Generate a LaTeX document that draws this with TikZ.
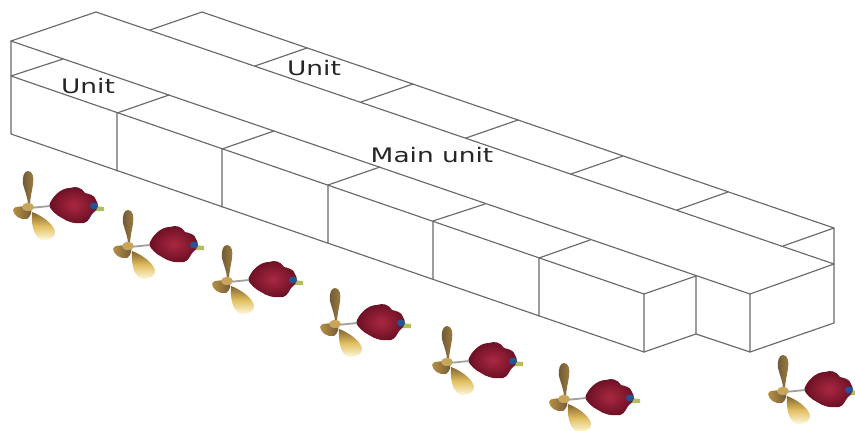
\documentclass[tikz,border=0pt]{standalone}
\usepackage{fontspec}
\setmainfont{DejaVu Sans}
\newfontfamily\lblfont[FakeStretch=1.32]{DejaVu Sans}
\usetikzlibrary{calc}
\definecolor{edgegray}{RGB}{105,105,105}
\definecolor{podred}{RGB}{170,40,65}
\definecolor{poddark}{RGB}{105,15,35}
\definecolor{brassdark}{RGB}{110,88,55}
\definecolor{brass}{RGB}{190,150,70}
\definecolor{bladegold}{RGB}{225,190,95}
\definecolor{bladetop}{RGB}{130,100,45}
\definecolor{cream}{RGB}{254,248,220}
\definecolor{shaftgray}{RGB}{160,160,160}
\definecolor{hubblue}{RGB}{35,85,150}
\definecolor{stickgreen}{RGB}{180,190,95}
\tikzset{
  edge/.style={draw=edgegray,line width=1.15pt,line join=round,line cap=round},
  lbl/.style={inner sep=0pt,text=black!85,font=\lblfont\fontsize{20}{20}\selectfont},
}
\newcommand{\thruster}[1]{%
  \begin{scope}[shift={(#1)}]
    \fill[stickgreen] (66,-2) -- (76,-1) -- (76,3) -- (66,3) -- cycle;
    \path[inner color=podred,outer color=poddark]
      (21,-2) .. controls (24,-12) and (33,-20) .. (42,-20)
      .. controls (48,-22) and (53,-21) .. (57,-15)
      .. controls (61,-14) and (67,-13) .. (68,-8)
      .. controls (71,-4) and (70,2) .. (65,5)
      .. controls (62,8) and (61,14) .. (56,15)
      .. controls (46,16) and (40,14) .. (34,10)
      .. controls (28,7) and (24,3) .. (21,-2) -- cycle;
    \fill[hubblue] (66,-2) ellipse [x radius=4,y radius=3.5];
    \draw[shaftgray,line width=1.8pt] (2,0) -- (22,-2);
    \path[left color=brass!90!brassdark,right color=brassdark]
      (-15,2) .. controls (-15,-2) and (-6,-2) .. (2,-1)
      .. controls (5,3) and (3,8) .. (-1,11)
      .. controls (-8,12) and (-14,8) .. (-15,2) -- cycle;
    \path[left color=brassdark,right color=brass!60!brassdark]
      (-5,-24) .. controls (-6,-31) and (-4,-37) .. (0,-37)
      .. controls (5,-37) and (6,-30) .. (5,-24)
      .. controls (4,-16) and (2,-10) .. (2,-3)
      -- (0,-3) .. controls (0,-10) and (-3,-16) .. (-5,-24) -- cycle;
    \path[top color=bladetop,bottom color=cream,middle color=bladegold]
      (4,4) .. controls (12,7) and (24,14) .. (27,23)
      .. controls (28,29) and (22,32) .. (15,32)
      .. controls (7,31) and (3,20) .. (4,4) -- cycle;
    \fill[brass!85!cream] (0,-1) ellipse [x radius=6,y radius=4];
  \end{scope}}
\begin{document}
\begin{tikzpicture}[x=1pt,y=-1pt]
\useasboundingbox (0,0) rectangle (855,431);
\thruster{28,208}
\thruster{128,247}
\thruster{227,282}
\thruster{335,325}
\thruster{447,363}
\thruster{564,400}
\thruster{783,392}
\coordinate (mA) at (11,41);
\coordinate (mB) at (96,12);
\coordinate (mC) at (834,264);
\coordinate (mD) at (750,294);
\coordinate (mE) at (750,352);
\coordinate (mF) at (834,323);
\coordinate (mG) at (696,276);
\coordinate (mH) at (696,334);
\foreach \n/\x/\yt/\yb in {0/11/76/134,1/117/113/171,2/222/149/207,3/328/185/243,4/433/221/279,5/539/258/316,6/644/294/352}{
  \coordinate (ft\n) at (\x,\yt);
  \coordinate (fb\n) at (\x,\yb);
}
\foreach \n/\x/\y in {0/63/59,1/169/95,2/274/131,3/380/167,4/485/204,5/590/240,6/696/276}{
  \coordinate (fk\n) at (\x,\y);
}
\coordinate (bA) at (150,30);
\coordinate (bB) at (202,12);
\coordinate (bC) at (834,228);
\coordinate (bD) at (783,246);
\foreach \n/\xa/\ya/\xb/\yb in {1/255/66/307/48,2/361/102/413/84,3/466/138/518/120,4/571/174/623/156,5/677/210/728/192}{
  \coordinate (ba\n) at (\xa,\ya);
  \coordinate (bb\n) at (\xb,\yb);
  \draw[edge] (ba\n) -- (bb\n);
}
\draw[edge] (bA) -- (bB) -- (bC) -- (mF) -- (mE) -- (mD) -- (mC);
\draw[edge] (bC) -- (bD);
\draw[edge] (mA) -- (mB) -- (mC);
\draw[edge] (mA) -- (mD);
\draw[edge] (mA) -- (fb0) -- (fb6) -- (ft6) -- (ft0);
\draw[edge] (ft0) -- (fk0);
\foreach \n in {1,...,5}{
  \draw[edge] (fb\n) -- (ft\n) -- (fk\n);
}
\draw[edge] (ft6) -- (mG) -- (mH) -- (fb6);
\draw[edge] (mH) -- (mE);
\node[lbl] (unitA) at (88,86) {Unit};
\node[lbl] (unitB) at (314,68) {Unit};
\node[lbl] (mainU) at (432,155) {Main unit};
\end{tikzpicture}
\end{document}
